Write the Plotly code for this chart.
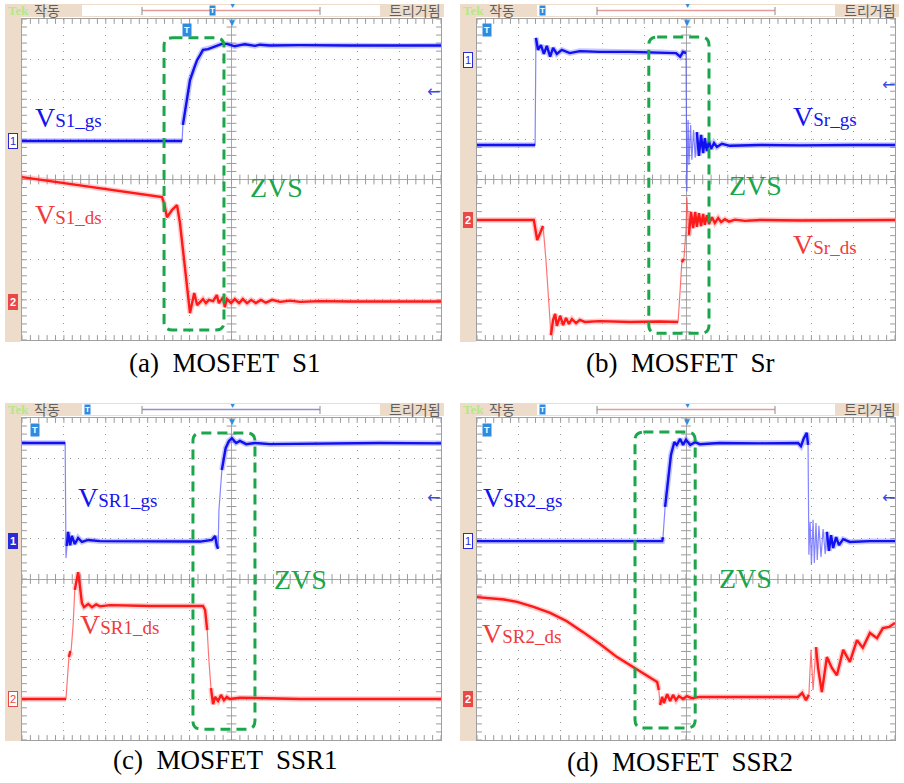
import plotly.graph_objects as go
import numpy as np

W, H = 904, 783

# ---------------- data (time / voltage in screen divisions, centre = 0) -------------
a_gs_t = [-5.00,-1.18,-1.16,-1.13,-1.06,-0.99,-0.89,-0.82,-0.75,-0.68,-0.56,-0.44,-0.32,-0.23,-0.11,0.08,0.20,0.32,0.56,0.68,0.92,1.63,2.83,4.02,5.00]
a_gs_v = [0.96,0.96,1.36,1.56,2.11,2.48,2.78,2.98,3.10,3.23,3.25,3.30,3.35,3.38,3.38,3.32,3.35,3.37,3.33,3.36,3.34,3.35,3.34,3.33,3.34]
a_ds_t = [-5.00,-1.66,-1.61,-1.54,-1.42,-1.30,-1.23,-1.16,-1.11,-1.04,-0.99,-0.94,-0.89,-0.82,-0.75,-0.68,-0.61,-0.54,-0.44,-0.35,-0.30,-0.20,-0.16,-0.11,-0.01,0.08,0.18,0.27,0.37,0.47,0.58,0.70,0.82,0.97,1.16,1.40,1.63,2.11,2.83,4.02,5.00]
a_ds_v = [0.06,-0.44,-0.59,-0.94,-0.76,-0.64,-1.08,-1.76,-2.26,-3.01,-3.33,-3.08,-2.83,-3.13,-3.05,-2.98,-3.08,-3.00,-3.03,-2.88,-3.08,-2.93,-3.18,-2.98,-3.08,-2.98,-3.08,-2.98,-3.08,-3.00,-3.08,-3.00,-3.07,-3.00,-3.05,-3.02,-3.05,-3.03,-3.04,-3.03,-3.04]

b_gs_t = [-5.00,-3.61,-3.59,-3.54,-3.47,-3.40,-3.33,-3.25,-3.18,-3.09,-2.97,-2.78,-2.54,-2.06,-1.34,-0.62,-0.24,-0.14,-0.07,0.00,0.02,0.05,0.07,0.11,0.14,0.18,0.22,0.26,0.31,0.36,0.41,0.45,0.50,0.55,0.60,0.67,0.74,0.86,1.05,1.77,2.73,3.92,5.00]
b_gs_v = [0.86,0.86,3.53,3.23,3.35,3.13,3.33,3.06,3.28,3.13,3.23,3.15,3.20,3.18,3.18,3.17,3.15,3.06,3.18,3.15,-0.30,1.48,0.36,1.36,0.49,1.23,0.54,1.18,0.59,1.11,0.66,1.03,0.71,0.96,0.76,0.91,0.81,0.89,0.84,0.86,0.85,0.86,0.86]
b_ds_t = [-5.00,-3.64,-3.56,-3.49,-3.42,-3.35,-3.28,-3.23,-3.18,-3.13,-3.09,-3.01,-2.94,-2.87,-2.80,-2.73,-2.63,-2.54,-2.42,-2.06,-1.34,-0.62,-0.19,-0.14,-0.10,-0.05,0.00,0.02,0.07,0.12,0.17,0.22,0.26,0.31,0.36,0.41,0.45,0.50,0.55,0.62,0.69,0.77,0.84,0.93,1.03,1.17,1.41,1.77,2.73,3.92,5.00]
b_ds_v = [-1.01,-1.01,-1.51,-1.31,-1.16,-2.01,-3.01,-3.88,-3.50,-3.35,-3.65,-3.40,-3.63,-3.45,-3.60,-3.48,-3.58,-3.50,-3.55,-3.53,-3.55,-3.54,-3.55,-2.76,-2.06,-1.98,-1.26,-0.44,-1.38,-0.81,-1.21,-0.81,-1.18,-0.84,-1.16,-0.86,-1.13,-0.89,-1.11,-0.94,-1.08,-0.96,-1.06,-0.99,-1.05,-1.00,-1.03,-1.01,-1.02,-1.01,-1.01]

c_gs_t = [-5.00,-3.97,-3.95,-3.93,-3.90,-3.85,-3.81,-3.74,-3.66,-3.57,-3.42,-3.14,-1.95,-0.75,-0.47,-0.39,-0.35,-0.32,-0.30,-0.25,-0.23,-0.18,-0.14,-0.06,0.01,0.11,0.20,0.35,0.56,0.92,2.11,3.54,5.00]
c_gs_v = [3.38,3.38,0.52,0.82,1.17,0.84,1.07,0.87,1.02,0.92,0.97,0.94,0.94,0.93,0.97,1.07,0.82,0.75,1.71,2.46,2.71,3.06,3.25,3.43,3.50,3.38,3.43,3.35,3.38,3.35,3.37,3.38,3.37]
c_ds_t = [-5.00,-3.95,-3.93,-3.88,-3.85,-3.83,-3.78,-3.74,-3.66,-3.62,-3.57,-3.52,-3.42,-3.33,-3.23,-3.14,-2.90,-1.95,-0.68,-0.63,-0.58,-0.54,-0.49,-0.44,-0.39,-0.32,-0.25,-0.18,-0.11,-0.04,0.20,1.63,3.54,5.00]
c_ds_v = [-2.98,-2.98,-2.68,-1.94,-1.81,-1.81,-1.14,-0.27,0.17,-0.15,-0.60,-0.70,-0.62,-0.70,-0.63,-0.68,-0.65,-0.67,-0.67,-0.77,-1.27,-2.01,-2.71,-3.11,-2.93,-3.03,-2.88,-3.01,-2.93,-2.98,-2.95,-2.98,-2.98,-2.98]

d_gs_t = [-5.00,-2.06,-0.57,-0.55,-0.50,-0.43,-0.36,-0.28,-0.22,-0.14,-0.07,0.00,0.10,0.22,0.33,0.81,1.77,2.68,2.75,2.82,2.89,2.92,2.94,2.97,3.00,3.04,3.07,3.11,3.14,3.18,3.23,3.28,3.33,3.37,3.42,3.47,3.52,3.59,3.66,3.76,3.92,4.40,5.00]
d_gs_v = [0.94,0.93,0.94,1.04,1.79,2.53,3.08,3.40,3.33,3.48,3.33,3.46,3.33,3.40,3.35,3.38,3.37,3.38,3.30,3.50,3.63,3.33,0.60,1.42,0.35,1.47,0.40,1.39,0.47,1.32,0.55,1.24,0.62,1.17,0.70,1.09,0.77,1.04,0.84,0.99,0.92,0.94,0.94]
d_ds_t = [-5.00,-4.69,-4.35,-4.04,-3.65,-3.25,-2.85,-2.46,-2.05,-1.65,-1.17,-0.69,-0.65,-0.62,-0.57,-0.53,-0.45,-0.38,-0.31,-0.24,-0.17,-0.07,0.02,0.14,0.33,1.29,2.68,2.78,2.87,2.94,2.99,3.04,3.11,3.16,3.25,3.37,3.49,3.61,3.76,3.92,4.09,4.23,4.40,4.57,4.71,4.86,5.00]
d_ds_v = [-0.45,-0.47,-0.51,-0.57,-0.69,-0.84,-1.05,-1.32,-1.62,-1.94,-2.26,-2.56,-2.76,-3.13,-2.93,-3.08,-2.86,-3.03,-2.88,-3.01,-2.91,-2.98,-2.91,-2.96,-2.93,-2.93,-2.93,-2.83,-3.01,-2.88,-1.76,-2.76,-1.69,-2.21,-2.81,-1.94,-2.21,-2.39,-1.76,-2.06,-1.52,-1.71,-1.34,-1.47,-1.22,-1.19,-1.09]

# ZVS boxes: [t_start, t_end, v_low, v_high]
box_a = [-1.61, -0.18, -3.75, 3.53]
box_b = [-0.89, 0.55, -3.83, 3.55]
box_c = [-0.92, 0.56, -3.73, 3.63]
box_d = [-1.22, 0.22, -3.70, 3.65]

captions = ["(a)  MOSFET  S1", "(b)  MOSFET  Sr", "(c)  MOSFET  SSR1", "(d)  MOSFET  SSR2"]
gs_subs = ["S1_gs", "Sr_gs", "SR1_gs", "SR2_gs"]
ds_subs = ["S1_ds", "Sr_ds", "SR1_ds", "SR2_ds"]
# label anchor positions (divisions)
gs_lab = [(-4.74, 1.54), (2.51, 1.56), (-3.71, 2.02), (-4.91, 2.02)]
ds_lab = [(-4.74, -0.87), (2.51, -1.63), (-3.67, -1.14), (-4.93, -1.35)]
zvs_lab = [(1.07, -0.21), (1.66, -0.14), (1.65, -0.02), (1.42, 0.02)]

# ---------------- styling ----------------
BEIGE = "#eedccb"
GRID = "#9a9a9a"
GREEN = "#1aa64a"
LBLUE = "#2f8be0"
STYLE = {
    "ds": dict(core="#ff1a1a", thin="rgba(255,70,70,0.75)", halo="rgba(255,110,110,0.35)"),
    "gs": dict(core="#1010f0", thin="rgba(80,80,255,0.7)", halo="rgba(90,90,255,0.35)"),
}

XD = {"L": [22 / W, 441 / W], "R": [477 / W, 895 / W]}
YD = {"T": [1 - 340 / H, 1 - 19 / H], "B": [1 - 740 / H, 1 - 418 / H]}

panels = [
    dict(ax="", col="L", row="T", x0=22, y0=19, gs=(a_gs_t, a_gs_v), ds=(a_ds_t, a_ds_v), box=box_a,
         bracket="#e59a9a", hdr="tag", trig=(165, 11), ch1=(141, False), ch2=(302, True), arrow=91),
    dict(ax="2", col="R", row="T", x0=477, y0=19, gs=(b_gs_t, b_gs_v), ds=(b_ds_t, b_ds_v), box=box_b,
         bracket="#e59a9a", hdr="left", trig=(10, 11), ch1=(60, False), ch2=(220, True), arrow=85),
    dict(ax="3", col="L", row="B", x0=22, y0=418, gs=(c_gs_t, c_gs_v), ds=(c_ds_t, c_ds_v), box=box_c,
         bracket="#8f8fd8", hdr="left", trig=(13, 12), ch1=(541, True), ch2=(699, False), arrow=497),
    dict(ax="4", col="R", row="B", x0=477, y0=418, gs=(d_gs_t, d_gs_v), ds=(d_ds_t, d_ds_v), box=box_d,
         bracket="#e59a9a", hdr="left", trig=(10, 12), ch1=(541, False), ch2=(699, True), arrow=497),
]

def PX(px):
    return px / W

def PY(py):
    return 1 - py / H

def slow_parts(t, v, limit=12.0):
    """Keep only the slowly varying segments (drawn bright/thick like a scope trace)."""
    xs, ys = [], []
    for k in range(len(t) - 1):
        dt = abs(t[k + 1] - t[k]) or 1e-9
        if abs(v[k + 1] - v[k]) / dt <= limit:
            if xs and xs[-1] is not None and xs[-1] == t[k]:
                xs.append(t[k + 1]); ys.append(v[k + 1])
            else:
                if xs:
                    xs.append(None); ys.append(None)
                xs += [t[k], t[k + 1]]; ys += [v[k], v[k + 1]]
    return xs, ys

fig = go.Figure()
shapes = []
annos = []

xt = np.round(np.arange(-5, 5.0001, 0.2), 2)
yt = np.round(np.arange(-4, 4.0001, 0.2), 2)

for i, p in enumerate(panels):
    xa, ya = "x" + p["ax"], "y" + p["ax"]
    # graticule ticks
    fig.add_trace(go.Scatter(
        x=np.concatenate([xt, xt, xt]), y=np.concatenate([0 * xt, 0 * xt + 4, 0 * xt - 4]),
        mode="markers", xaxis=xa, yaxis=ya, hoverinfo="skip", showlegend=False,
        marker=dict(symbol="line-ns", size=7, line=dict(width=1, color=GRID))))
    fig.add_trace(go.Scatter(
        x=np.concatenate([0 * yt, 0 * yt - 5, 0 * yt + 5]), y=np.concatenate([yt, yt, yt]),
        mode="markers", xaxis=xa, yaxis=ya, hoverinfo="skip", showlegend=False,
        marker=dict(symbol="line-ew", size=7, line=dict(width=1, color=GRID))))
    # waveforms
    for key in ("ds", "gs"):
        t, v = p[key]
        st = STYLE[key]
        sx, sy = slow_parts(t, v)
        fig.add_trace(go.Scatter(x=t, y=v, mode="lines", xaxis=xa, yaxis=ya, hoverinfo="skip",
                                 showlegend=False, line=dict(color=st["thin"], width=1.2)))
        fig.add_trace(go.Scatter(x=sx, y=sy, mode="lines", xaxis=xa, yaxis=ya, hoverinfo="skip",
                                 showlegend=False, line=dict(color=st["halo"], width=5.5), connectgaps=False))
        fig.add_trace(go.Scatter(x=sx, y=sy, mode="lines", xaxis=xa, yaxis=ya, hoverinfo="skip",
                                 showlegend=False, line=dict(color=st["core"], width=2.4), connectgaps=False))
    # ZVS rounded dashed box
    bx0, bx1, by0, by1 = p["box"]
    rx, ry = 0.2, 0.2
    path = (f"M {bx0+rx},{by1} L {bx1-rx},{by1} Q {bx1},{by1} {bx1},{by1-ry} "
            f"L {bx1},{by0+ry} Q {bx1},{by0} {bx1-rx},{by0} L {bx0+rx},{by0} "
            f"Q {bx0},{by0} {bx0},{by0+ry} L {bx0},{by1-ry} Q {bx0},{by1} {bx0+rx},{by1} Z")
    shapes.append(dict(type="path", path=path, xref=xa, yref=ya, layer="above",
                       line=dict(color=GREEN, width=3, dash="10px,6px")))
    # labels
    annos.append(dict(x=gs_lab[i][0], y=gs_lab[i][1], xref=xa, yref=ya, xanchor="left", yanchor="middle",
                      showarrow=False, text=f"V<span style='font-size:19px'>{gs_subs[i]}</span>",
                      font=dict(family="Liberation Serif", size=28, color="#1414f0")))
    annos.append(dict(x=ds_lab[i][0], y=ds_lab[i][1], xref=xa, yref=ya, xanchor="left", yanchor="middle",
                      showarrow=False, text=f"V<span style='font-size:19px'>{ds_subs[i]}</span>",
                      font=dict(family="Liberation Serif", size=28, color="#f23a3a")))
    annos.append(dict(x=zvs_lab[i][0], y=zvs_lab[i][1], xref=xa, yref=ya, xanchor="center", yanchor="middle",
                      showarrow=False, text="ZVS", font=dict(family="Liberation Serif", size=28, color=GREEN)))

    # ---- oscilloscope frame decorations (pixel / paper coords) ----
    x0, y0 = p["x0"], p["y0"]
    shapes.append(dict(type="rect", xref="paper", yref="paper", x0=PX(x0 - 17), x1=PX(x0 - 1),
                       y0=PY(y0 + 323), y1=PY(y0 - 15), fillcolor=BEIGE, line=dict(width=0), layer="below"))
    shapes.append(dict(type="rect", xref="paper", yref="paper", x0=PX(x0 - 17), x1=PX(x0 + 422),
                       y0=PY(y0 - 2), y1=PY(y0 - 15), fillcolor=BEIGE, line=dict(width=0), layer="below"))
    shapes.append(dict(type="rect", xref="paper", yref="paper", x0=PX(x0 + 60), x1=PX(x0 + 358),
                       y0=PY(y0 - 3), y1=PY(y0 - 14), fillcolor="white", line=dict(width=0), layer="below"))
    shapes.append(dict(type="line", xref="paper", yref="paper", x0=PX(x0 + 120), x1=PX(x0 + 298),
                       y0=PY(y0 - 8.5), y1=PY(y0 - 8.5), line=dict(color=p["bracket"], width=1.5)))
    for bxp in (x0 + 120, x0 + 298):
        shapes.append(dict(type="line", xref="paper", yref="paper", x0=PX(bxp), x1=PX(bxp),
                           y0=PY(y0 - 12), y1=PY(y0 - 4), line=dict(color="#8a8a8a", width=1)))
    annos.append(dict(x=PX(x0 - 16), y=PY(y0 - 8.5), xref="paper", yref="paper", xanchor="left", yanchor="middle",
                      showarrow=False, text="<b>Tek</b>", font=dict(family="Liberation Serif", size=13, color="#b4e884")))
    annos.append(dict(x=PX(x0 + 10), y=PY(y0 - 9), xref="paper", yref="paper", xanchor="left", yanchor="middle",
                      showarrow=False, text="작동", font=dict(family="Noto Sans CJK KR", size=14, color="#606060")))
    annos.append(dict(x=PX(x0 + 421), y=PY(y0 - 9), xref="paper", yref="paper", xanchor="right", yanchor="middle",
                      showarrow=False, text="트리거됨", font=dict(family="Noto Sans CJK KR", size=14, color="#606060")))
    annos.append(dict(x=PX(x0 + 210), y=PY(y0 - 13), xref="paper", yref="paper", xanchor="center", yanchor="middle",
                      showarrow=False, text="▼", font=dict(size=7, color=LBLUE)))
    annos.append(dict(x=PX(x0 + 210), y=PY(y0 + 3), xref="paper", yref="paper", xanchor="center", yanchor="middle",
                      showarrow=False, text="▼", font=dict(size=10, color=LBLUE)))
    hx = x0 + 190 if p["hdr"] == "tag" else x0 + 65
    annos.append(dict(x=PX(hx), y=PY(y0 - 8.5), xref="paper", yref="paper", xanchor="center", yanchor="middle",
                      showarrow=False, text="<b>T</b>", bgcolor=LBLUE, borderpad=0,
                      font=dict(family="Liberation Sans", size=8, color="white")))
    annos.append(dict(x=PX(x0 + p["trig"][0]), y=PY(y0 + p["trig"][1]), xref="paper", yref="paper",
                      xanchor="center", yanchor="middle", showarrow=False, text="<b>T</b>", bgcolor=LBLUE,
                      borderpad=1, font=dict(family="Liberation Sans", size=9, color="white")))
    for (cy, filled), lab, colr in [(p["ch1"], "1", "#2a2ad8"), (p["ch2"], "2", "#e84848")]:
        annos.append(dict(x=PX(x0 - 9), y=PY(cy), xref="paper", yref="paper", xanchor="center", yanchor="middle",
                          showarrow=False, text=f"<b>{lab}</b>" if filled else lab,
                          bgcolor=colr if filled else "white", bordercolor=colr, borderwidth=1, borderpad=1,
                          font=dict(family="Liberation Sans", size=11, color="white" if filled else colr)))
    annos.append(dict(x=PX(x0 + 411), y=PY(p["arrow"]), xref="paper", yref="paper", xanchor="center",
                      yanchor="middle", showarrow=False, text="←",
                      font=dict(family="DejaVu Sans", size=16, color="#3a4ae0")))

# captions
for cap, (cx, cy) in zip(captions, [(225, 363), (680, 363), (225, 760), (680, 762)]):
    annos.append(dict(x=PX(cx), y=PY(cy), xref="paper", yref="paper", xanchor="center", yanchor="middle",
                      showarrow=False, text=cap, font=dict(family="Liberation Serif", size=27, color="black")))

axis_common = dict(range=[-5, 5], dtick=1, tick0=0, showticklabels=False, ticks="", showgrid=True,
                   gridcolor=GRID, griddash="1px,7px", gridwidth=1, zeroline=True, zerolinecolor="#a8a8a8",
                   zerolinewidth=1, showline=True, mirror=True, linecolor="#a0a0a0", linewidth=1,
                   fixedrange=True)
layout_axes = {}
for p in panels:
    k = p["ax"]
    xkey, ykey = "xaxis" + k, "yaxis" + k
    layout_axes[xkey] = dict(axis_common, domain=XD[p["col"]], anchor="y" + k)
    ya_common = dict(axis_common, range=[-4, 4])
    layout_axes[ykey] = dict(ya_common, domain=YD[p["row"]], anchor="x" + k)

fig.update_layout(width=W, height=H, margin=dict(l=0, r=0, t=0, b=0), paper_bgcolor="white",
                  plot_bgcolor="white", showlegend=False, shapes=shapes, annotations=annos, **layout_axes)

fig.write_html("out.html", config={"displayModeBar": False},
               post_script="document.body.style.margin='0';document.body.style.overflow='hidden';")
